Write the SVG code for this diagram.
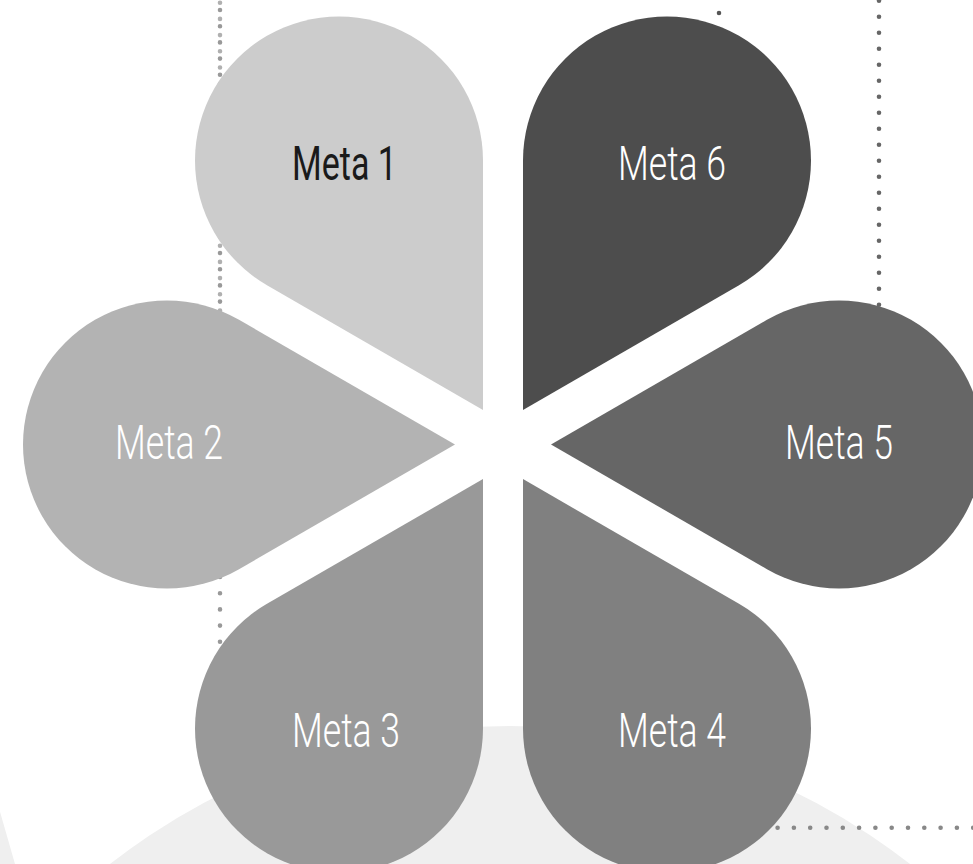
<svg xmlns="http://www.w3.org/2000/svg" xmlns:xlink="http://www.w3.org/1999/xlink" width="973" height="864" viewBox="0 0 973 864">
  <style>
    .dots { fill: none; stroke-linecap: round; stroke-width: 4.6; }
    .label { font-family: Roboto, "Liberation Sans", sans-serif; font-size: 49px; text-anchor: middle; }
    .light { fill: #ffffff; font-weight: 300; }
    .dark { fill: #1a1a1a; font-weight: 400; }
  </style>
  <defs>
    <path id="petal" d="M0,0 L216,-124.71 A144,144 0 1 1 216,124.71 Z"/>
  </defs>
  <rect width="973" height="864" fill="#ffffff"/>
  <g id="background">
    <circle cx="510" cy="1375" r="649" fill="#efefef"/>
    <polygon points="0,811.7 15,864 0,864" fill="#efefef"/>
  </g>
  <g id="connectors">
    <line class="dots" x1="220" y1="10" x2="220" y2="642" stroke="#999999" stroke-dasharray="0 16.2"/>
    <line class="dots" x1="220" y1="2.7" x2="220" y2="320" stroke="#b0b0b0" stroke-dasharray="0 16.2"/>
    <line class="dots" x1="879" y1="0.7" x2="879" y2="340" stroke="#666666" stroke-dasharray="0 16"/>
    <line class="dots" x1="719" y1="13" x2="719" y2="270" stroke="#555555" stroke-dasharray="0 16"/>
    <line class="dots" x1="745" y1="827.7" x2="980" y2="827.7" stroke="#888888" stroke-dasharray="0 16.3"/>
  </g>
  <g id="meta1">
    <use xlink:href="#petal" href="#petal" transform="translate(483,409.9) rotate(240)" fill="#cccccc"/>
    <text class="label dark" x="344.5" y="180" textLength="105" lengthAdjust="spacingAndGlyphs">Meta 1</text>
  </g>
  <g id="meta2">
    <use xlink:href="#petal" href="#petal" transform="translate(455,444.5) rotate(180)" fill="#b3b3b3"/>
    <text class="label light" x="169" y="458.5" textLength="108" lengthAdjust="spacingAndGlyphs">Meta 2</text>
  </g>
  <g id="meta3">
    <use xlink:href="#petal" href="#petal" transform="translate(483,479.1) rotate(120)" fill="#999999"/>
    <text class="label light" x="346" y="746.5" textLength="108" lengthAdjust="spacingAndGlyphs">Meta 3</text>
  </g>
  <g id="meta4">
    <use xlink:href="#petal" href="#petal" transform="translate(523,479.1) rotate(60)" fill="#808080"/>
    <text class="label light" x="672" y="746.5" textLength="108" lengthAdjust="spacingAndGlyphs">Meta 4</text>
  </g>
  <g id="meta5">
    <use xlink:href="#petal" href="#petal" transform="translate(551,444.5)" fill="#666666"/>
    <text class="label light" x="839" y="458.5" textLength="108" lengthAdjust="spacingAndGlyphs">Meta 5</text>
  </g>
  <g id="meta6">
    <use xlink:href="#petal" href="#petal" transform="translate(523,409.9) rotate(300)" fill="#4d4d4d"/>
    <text class="label light" x="672" y="180" textLength="108" lengthAdjust="spacingAndGlyphs">Meta 6</text>
  </g>
</svg>
